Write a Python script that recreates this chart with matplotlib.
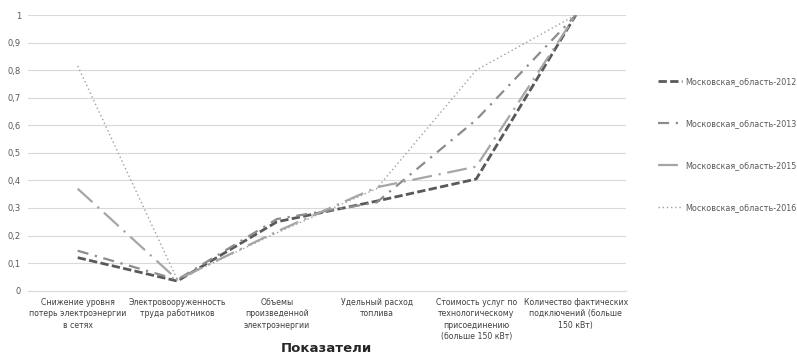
import matplotlib.pyplot as plt
import numpy as np

categories = ['Снижение уровня\nпотерь электроэнергии\nв сетях',
              'Электровооруженность\nтруда работников',
              'Объемы\nпроизведенной\nэлектроэнергии',
              'Удельный расход\nтоплива',
              'Стоимость услуг по\nтехнологическому\nприсоединению\n(больше 150 кВт)',
              'Количество фактических\nподключений (больше\n150 кВт)']
s2012 = [0.12, 0.035, 0.25, 0.325, 0.405, 1.0]
s2013 = [0.145, 0.04, 0.26, 0.32, 0.62, 1.0]
s2015 = [0.37, 0.04, 0.215, 0.375, 0.45, 1.0]
s2016 = [0.815, 0.04, 0.21, 0.37, 0.80, 1.0]
names = ['Московская_область-2012', 'Московская_область-2013',
         'Московская_область-2015', 'Московская_область-2016']
yticks = [0, 0.1, 0.2, 0.3, 0.4, 0.5, 0.6, 0.7, 0.8, 0.9, 1]

narrow = ['Liberation Sans Narrow', 'DejaVu Sans Condensed', 'DejaVu Sans']

fig = plt.figure(figsize=(7.97, 3.58), dpi=100)
ax = fig.add_axes([0.035, 0.188, 0.75, 0.77])
x = np.arange(len(categories))

ax.plot(x, s2012, color='#595959', lw=2.0, dashes=(3, 1.2), label=names[0])
ax.plot(x, s2013, color='#8c8c8c', lw=1.6, dashes=(5, 3, 1, 3), label=names[1])
ax.plot(x, s2015, color='#a6a6a6', lw=1.6, dashes=(9, 3, 1, 3), label=names[2])
ax.plot(x, s2016, color='#a0a0a0', lw=1.0, dashes=(1, 2), label=names[3])

ax.set_xlim(-0.5, len(categories) - 0.5)
ax.set_ylim(0, 1)
ax.set_yticks(yticks)
ax.set_yticklabels([f'{v:g}'.replace('.', ',') for v in yticks],
                   fontsize=6, color='#595959')
ax.set_xticks(x)
ax.set_xticklabels(categories, fontsize=6.2, color='#404040', family=narrow,
                   fontstretch='condensed', linespacing=1.35, va='top')
ax.tick_params(length=0, pad=5)
ax.grid(axis='y', color='#d9d9d9', lw=0.8)
for s in ['top', 'right', 'left']:
    ax.spines[s].set_visible(False)
ax.spines['bottom'].set_color('#d9d9d9')
ax.set_axisbelow(True)
ax.set_xlabel('Показатели', fontsize=9.5, fontweight='bold', color='#262626', labelpad=1)

leg = fig.legend(loc='center left', bbox_to_anchor=(0.815, 0.596), frameon=False,
                 fontsize=6.4, labelspacing=3.7, handlelength=2.8, handletextpad=0.3)
for t in leg.get_texts():
    t.set_color('#595959')
    t.set_family(narrow)
    t.set_fontstretch('condensed')

plt.savefig('out.png', dpi=100)
